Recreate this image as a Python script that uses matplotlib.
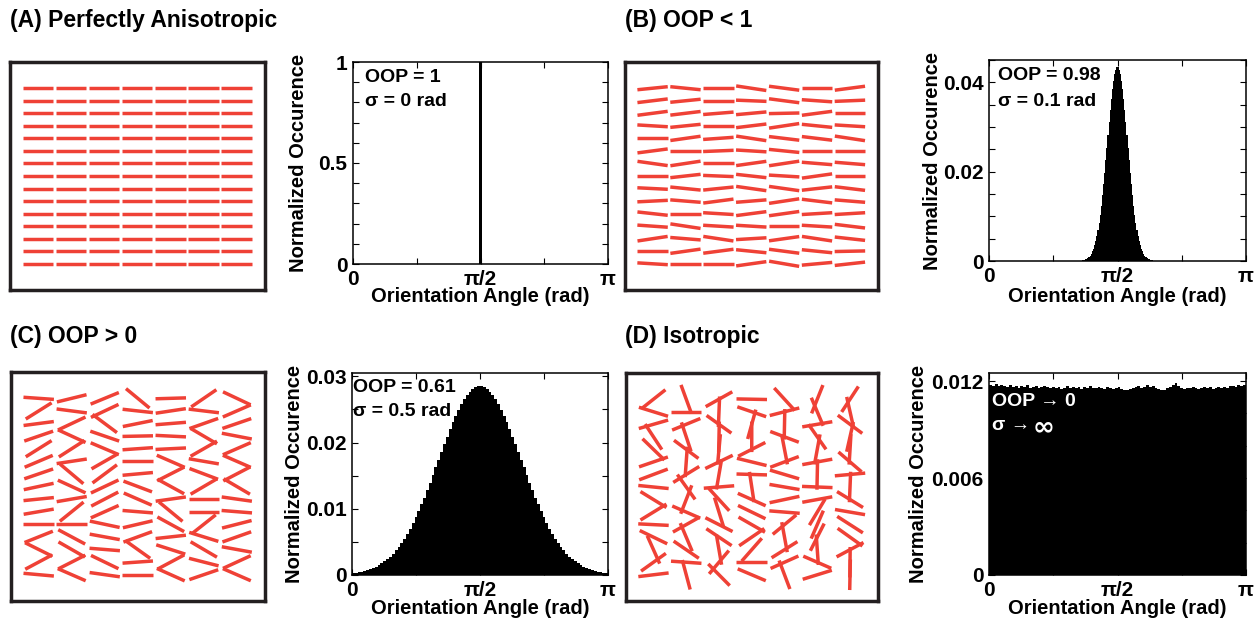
import numpy as np
import matplotlib
matplotlib.use("Agg")
import matplotlib.pyplot as plt
from matplotlib.collections import LineCollection

W, H = 1257, 627
plt.rcParams['font.family'] = ['Liberation Sans', 'DejaVu Sans']
plt.rcParams['font.weight'] = 'bold'

RED = '#ef4136'
FRAME = '#231f20'

# fibre orientations in rad (counter-clockwise from horizontal)
# 15 rows (top to bottom) x 7 columns
A_ROWS = [[0.0] * 7 for _ in range(15)]

B_ROWS = [
    [0.10, -0.10, 0.00, -0.15, -0.13, 0.00, 0.13],
    [0.12, 0.10, 0.00, -0.04, -0.13, -0.07, 0.04],
    [0.13, 0.12, 0.08, 0.09, 0.02, 0.13, 0.00],
    [-0.06, 0.10, 0.00, 0.12, 0.15, -0.10, -0.06],
    [0.00, 0.14, 0.07, -0.15, -0.12, -0.12, -0.15],
    [0.13, 0.00, 0.04, -0.06, -0.10, 0.00, 0.00],
    [-0.14, 0.15, 0.00, 0.14, 0.15, -0.08, -0.08],
    [0.00, 0.11, -0.04, -0.11, -0.06, 0.14, 0.00],
    [-0.05, -0.10, 0.10, -0.14, -0.14, 0.11, -0.12],
    [0.05, -0.08, 0.13, 0.08, 0.15, -0.12, -0.08],
    [-0.11, 0.00, -0.06, 0.13, 0.14, 0.06, 0.06],
    [-0.07, -0.15, -0.06, -0.06, 0.00, -0.06, -0.12],
    [0.15, -0.08, -0.15, 0.06, 0.14, -0.15, -0.11],
    [0.00, 0.14, 0.13, -0.10, -0.13, -0.10, 0.02],
    [-0.06, 0.00, 0.00, 0.14, -0.17, 0.09, 0.11],
]

# 7 columns (left to right) x 15 rows (top to bottom)
C_COLS = [
    [-0.07, 0.56, 0.13, 0.33, 0.56, 0.40, 0.33, 0.21, 0.10, 0.17, 0.00, 0.38, -0.46, 0.49, -0.09],
    [0.24, -0.13, 0.44, -0.43, 0.57, 0.15, -0.70, -0.43, 0.17, 0.68, 0.00, -0.49, -0.52, 0.47, -0.41],
    [0.39, 0.44, -0.64, -0.33, -0.40, 0.52, 0.64, 0.44, 0.48, 0.42, -0.21, -0.18, -0.08, -0.45, -0.14],
    [-0.69, -0.11, 0.20, 0.02, 0.07, 0.00, 0.09, -0.36, -0.41, -0.08, 0.23, 0.35, -0.62, 0.07, 0.00],
    [0.03, 0.15, 0.08, -0.05, 0.05, -0.41, 0.47, -0.50, 0.14, -0.69, -0.50, 0.11, -0.31, 0.49, -0.42],
    [0.60, -0.12, 0.34, -0.53, 0.52, -0.17, -0.36, 0.53, 0.00, 0.00, 0.67, -0.30, -0.53, -0.25, 0.33],
    [-0.44, 0.41, 0.33, -0.19, 0.41, -0.41, 0.48, -0.53, -0.14, -0.08, 0.25, 0.34, -0.18, 0.43, -0.41],
]

D_COLS = [
    [0.67, -0.30, 0.28, -0.99, -0.77, 0.33, 0.36, -0.10, -0.55, 0.55, -0.05, -0.45, -1.15, 0.62, 0.12],
    [-1.22, 0.00, 0.39, -1.25, -0.64, 1.50, 0.55, -0.95, 1.20, -0.41, 0.51, -1.17, -0.60, -0.07, -1.31],
    [0.51, 1.53, -0.62, 1.55, 1.48, 0.45, 1.40, 0.08, -0.83, -1.27, -0.47, -0.59, -1.40, 0.87, -0.79],
    [-0.02, -0.33, 1.30, 1.57, 0.47, -0.24, -0.03, -1.42, -0.42, -0.45, -0.52, 0.60, 0.85, 0.00, -0.40],
    [-0.83, 0.25, 1.55, -0.36, -1.38, 0.36, -0.29, -0.17, 0.21, -0.08, 0.69, -1.39, 0.56, 0.42, -1.21],
    [1.19, -1.17, 0.17, -0.96, 1.39, 0.18, 1.55, -0.04, 0.18, 1.03, 1.16, 1.10, -1.50, -0.41, 0.30],
    [0.99, -1.35, -0.64, 1.35, 1.51, -0.71, 0.09, 1.53, -0.55, -0.17, -0.57, -0.62, 0.49, 1.56, 1.55],
]

# orientation histograms (normalised occurrence per bin)
A_CENTERS = [np.pi / 2]
A_VALUES = [1.0]

B_NBINS = 230  # bins over [0, pi]; only the 72 around pi/2 are non-zero
B_VALUES = [
    0.00002, 0.00003, 0.00005, 0.00008, 0.00012, 0.00017, 0.00025, 0.00035, 0.00048,
    0.00067, 0.00091, 0.00122, 0.00162, 0.00213, 0.00277, 0.00356, 0.00452, 0.00566,
    0.00702, 0.00859, 0.01039, 0.01242, 0.01467, 0.01713, 0.01976, 0.02252, 0.02536,
    0.02823, 0.03106, 0.03375, 0.03625, 0.03847, 0.04035, 0.04182, 0.04282, 0.04334,
    0.04334, 0.04282, 0.04182, 0.04035, 0.03847, 0.03625, 0.03375, 0.03106, 0.02823,
    0.02536, 0.02252, 0.01976, 0.01713, 0.01467, 0.01242, 0.01039, 0.00859, 0.00702,
    0.00566, 0.00452, 0.00356, 0.00277, 0.00213, 0.00162, 0.00122, 0.00091, 0.00067,
    0.00048, 0.00035, 0.00025, 0.00017, 0.00012, 0.00008, 0.00005, 0.00003, 0.00002,
]

C_VALUES = [
    0.00028, 0.00034, 0.00041, 0.00051, 0.00061, 0.00074, 0.00089, 0.00106, 0.00126,
    0.00149, 0.00176, 0.00206, 0.00240, 0.00279, 0.00323, 0.00372, 0.00426, 0.00485,
    0.00551, 0.00622, 0.00699, 0.00782, 0.00871, 0.00966, 0.01065, 0.01170, 0.01279,
    0.01391, 0.01507, 0.01624, 0.01742, 0.01860, 0.01977, 0.02091, 0.02202, 0.02307,
    0.02406, 0.02498, 0.02582, 0.02655, 0.02718, 0.02769, 0.02809, 0.02835, 0.02848,
    0.02848, 0.02835, 0.02809, 0.02769, 0.02718, 0.02655, 0.02582, 0.02498, 0.02406,
    0.02307, 0.02202, 0.02091, 0.01977, 0.01860, 0.01742, 0.01624, 0.01507, 0.01391,
    0.01279, 0.01170, 0.01065, 0.00966, 0.00871, 0.00782, 0.00699, 0.00622, 0.00551,
    0.00485, 0.00426, 0.00372, 0.00323, 0.00279, 0.00240, 0.00206, 0.00176, 0.00149,
    0.00126, 0.00106, 0.00089, 0.00074, 0.00061, 0.00051, 0.00041, 0.00034, 0.00028,
]

D_VALUES = [
    0.01178, 0.01172, 0.01180, 0.01168, 0.01175, 0.01170, 0.01163, 0.01174, 0.01166, 0.01171,
    0.01160, 0.01168, 0.01162, 0.01173, 0.01158, 0.01165, 0.01170, 0.01157, 0.01163, 0.01169,
    0.01161, 0.01155, 0.01166, 0.01159, 0.01164, 0.01152, 0.01160, 0.01167, 0.01156, 0.01162,
    0.01158, 0.01165, 0.01153, 0.01161, 0.01157, 0.01168, 0.01160, 0.01155, 0.01163, 0.01159,
    0.01150, 0.01162, 0.01156, 0.01148, 0.01158, 0.01164, 0.01153, 0.01145, 0.01142, 0.01151,
    0.01158, 0.01163, 0.01170, 0.01160, 0.01166, 0.01174, 0.01162, 0.01168, 0.01157, 0.01150,
    0.01147, 0.01144, 0.01155, 0.01165, 0.01177, 0.01188, 0.01170, 0.01158, 0.01153, 0.01160,
    0.01155, 0.01163, 0.01158, 0.01152, 0.01160, 0.01166, 0.01157, 0.01162, 0.01150, 0.01156,
    0.01161, 0.01155, 0.01164, 0.01158, 0.01167, 0.01171, 0.01165, 0.01174, 0.01169, 0.01176,
]

XTICKS = [0, np.pi / 4, np.pi / 2, 3 * np.pi / 4, np.pi]
XTICK_LABELS = ['0', '', 'π/2', '', 'π']

A_YTICKS = [0, 0.1, 0.2, 0.3, 0.4, 0.5, 0.6, 0.7, 0.8, 0.9, 1.0]
A_YLABELS = ['0', '', '', '', '', '0.5', '', '', '', '', '1']
B_YTICKS = [0, 0.005, 0.01, 0.015, 0.02, 0.025, 0.03, 0.035, 0.04, 0.045]
B_YLABELS = ['0', '', '', '', '0.02', '', '', '', '0.04', '']
C_YTICKS = [0, 0.005, 0.01, 0.015, 0.02, 0.025, 0.03]
C_YLABELS = ['0', '', '0.01', '', '0.02', '', '0.03']
D_YTICKS = [0, 0.002, 0.004, 0.006, 0.008, 0.010, 0.012]
D_YLABELS = ['0', '', '', '0.006', '', '', '0.012']

SEG_LEN = 30.5  # px


def px_axes(fig, x0, y0, x1, y1):
    return fig.add_axes([x0 / W, 1 - y1 / H, (x1 - x0) / W, (y1 - y0) / H])


def ftext(fig, x, y, s, **kw):
    kw.setdefault('va', 'center')
    kw.setdefault('fontweight', 'bold')
    return fig.text(x / W, 1 - y / H, s, **kw)


def draw_fibres(ax, angles, w, h):
    angles = np.asarray(angles)
    nrow, ncol = angles.shape
    segs = []
    for i in range(nrow):
        cy = h - h * (0.115 + 0.055 * i)
        for j in range(ncol):
            cx = w * (0.109 + 0.13 * j)
            th = angles[i, j]
            dx = 0.5 * SEG_LEN * np.cos(th)
            dy = 0.5 * SEG_LEN * np.sin(th)
            segs.append([(cx - dx, cy - dy), (cx + dx, cy + dy)])
    ax.add_collection(LineCollection(segs, colors=RED, linewidths=2.5,
                                     capstyle='butt'))
    ax.set_xlim(0, w)
    ax.set_ylim(0, h)
    ax.set_xticks([])
    ax.set_yticks([])
    for s in ax.spines.values():
        s.set_color(FRAME)
        s.set_linewidth(2.5)


def draw_hist(ax, centers, values, width, ytop, yticks, ylabels):
    ax.bar(centers, values, width=width, color='k', linewidth=0)
    ax.set_xlim(0, np.pi)
    ax.set_ylim(0, ytop)
    ax.set_xticks(XTICKS)
    ax.set_xticklabels(XTICK_LABELS)
    ax.set_yticks(yticks)
    ax.set_yticklabels(ylabels)
    ax.tick_params(direction='in', top=True, right=True, length=4,
                   width=0.8, labelsize=15, pad=4)
    for lab in ax.get_xticklabels() + ax.get_yticklabels():
        lab.set_fontweight('bold')
    for s in ax.spines.values():
        s.set_linewidth(1.1)


fig = plt.figure(figsize=(W / 100, H / 100), dpi=100)

# bin positions
b_w = np.pi / B_NBINS
b_n = len(B_VALUES)
b_centers = np.pi / 2 + (np.arange(b_n) - (b_n - 1) / 2) * b_w
c_w = np.pi / len(C_VALUES)
c_centers = (np.arange(len(C_VALUES)) + 0.5) * c_w
d_w = np.pi / len(D_VALUES)
d_centers = (np.arange(len(D_VALUES)) + 0.5) * d_w

panels = [
    dict(title='(A) Perfectly Anisotropic', txy=(10, 20),
         box=(10, 62, 265, 290), fib=A_ROWS,
         hist=(353, 62, 608, 264), data=(A_CENTERS, A_VALUES, 0.035),
         ytop=1.0, yt=(A_YTICKS, A_YLABELS), ylx=298, xly=297,
         notes=[('OOP = 1', 365, 77), ('σ = 0 rad', 365, 101)], ncolor='k'),
    dict(title='(B) OOP < 1', txy=(625, 20),
         box=(625, 62, 878, 290), fib=B_ROWS,
         hist=(989, 60, 1246, 261), data=(b_centers, B_VALUES, b_w),
         ytop=0.045, yt=(B_YTICKS, B_YLABELS), ylx=932, xly=297,
         notes=[('OOP = 0.98', 998, 75), ('σ = 0.1 rad', 998, 101)], ncolor='k'),
    dict(title='(C) OOP > 0', txy=(10, 336),
         box=(11, 372, 265, 601), fib=np.array(C_COLS).T,
         hist=(352, 373, 608, 575), data=(c_centers, C_VALUES, c_w),
         ytop=0.0305, yt=(C_YTICKS, C_YLABELS), ylx=294, xly=609,
         notes=[('OOP = 0.61', 353, 387), ('σ = 0.5 rad', 353, 412)], ncolor='k'),
    dict(title='(D) Isotropic', txy=(625, 337),
         box=(626, 373, 878, 601), fib=np.array(D_COLS).T,
         hist=(989, 373, 1246, 575), data=(d_centers, D_VALUES, d_w),
         ytop=0.0125, yt=(D_YTICKS, D_YLABELS), ylx=919, xly=609,
         notes=[('OOP → 0', 992, 401), ('σ → ', 992, 426)], ncolor='w'),
]

for p in panels:
    ftext(fig, *p['txy'], p['title'], ha='left', fontsize=16.5)

    x0, y0, x1, y1 = p['box']
    bax = px_axes(fig, x0, y0, x1, y1)
    draw_fibres(bax, p['fib'], x1 - x0, y1 - y0)

    hx0, hy0, hx1, hy1 = p['hist']
    hax = px_axes(fig, hx0, hy0, hx1, hy1)
    centers, values, width = p['data']
    draw_hist(hax, centers, values, width, p['ytop'], *p['yt'])

    ftext(fig, p['ylx'], (hy0 + hy1) / 2, 'Normalized Occurence',
          ha='center', rotation=90, fontsize=14.5)
    ftext(fig, (hx0 + hx1) / 2, p['xly'], 'Orientation Angle (rad)',
          ha='center', fontsize=14.5)
    for s, tx, ty in p['notes']:
        ftext(fig, tx, ty, s, ha='left', fontsize=14, color=p['ncolor'])

# infinity sign drawn wider than the surrounding text
ftext(fig, 1033, 427, '∞', ha='left', fontsize=19, color='w',
      family=['DejaVu Sans'])

fig.savefig('out.png', dpi=100)
